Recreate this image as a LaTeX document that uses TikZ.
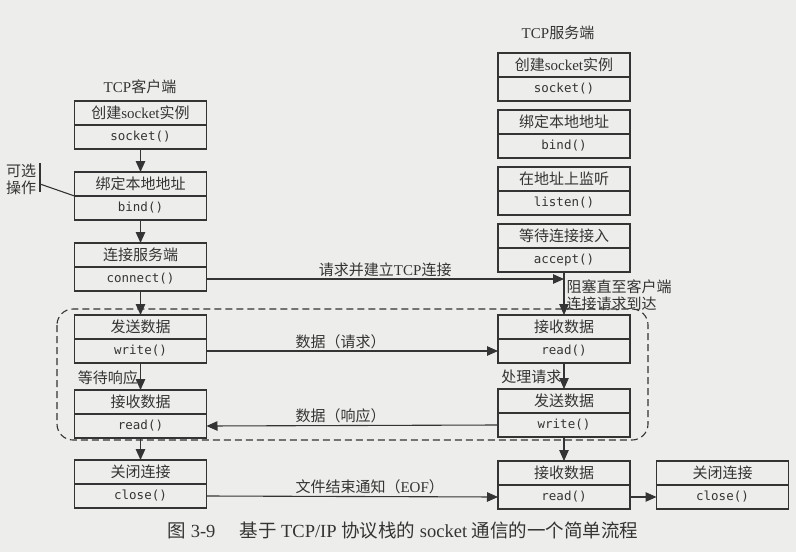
\documentclass[tikz,border=0pt]{standalone}
\usepackage{fontspec}
\setmainfont{Liberation Serif}
\setmonofont{DejaVu Sans Mono}
\newfontfamily\cjk{Noto Sans CJK SC}
\newcommand\zh[1]{{\cjk #1}}
\usepackage{tikz}
\usetikzlibrary{arrows.meta}
\usetikzlibrary{positioning}
\definecolor{paper}{RGB}{237,237,235}
\definecolor{ink}{RGB}{52,52,52}

\begin{document}
\begin{tikzpicture}
[x=1pt,y=-1pt,
  boxdecorate/.style={draw=ink,line width=1.1pt,minimum width=132pt,minimum height=24pt,
    inner sep=0pt,outer sep=0pt,text=ink,font=\fontsize{15}{17}\selectfont},
  funcdecorate/.style={boxdecorate,font=\fontsize{12.5}{14}\selectfont\ttfamily},
  labeldecorate/.style={text=ink,font=\fontsize{15}{17}\selectfont,inner sep=2pt},
  linedecorate/.style={draw=ink,line width=1.1pt},
  arrowdecorate/.style={linedecorate,-{Triangle[length=11pt,width=9.5pt]}}]
\fill[paper] (0,0) rectangle (796,552);
\useasboundingbox (0,0) rectangle (796,552);
%% titles
\node[labeldecorate] (client) at (140,87) {TCP\zh{客户端}};
\node[labeldecorate] (server) at (558,33) {TCP\zh{服务端}};
%% boxes: step on top, call below
\foreach \nodename/\x/\y/\what/\func in {
  cs/140.5/113/{\zh{创建}socket\zh{实例}}/socket(),
  cb/140.5/184/{\zh{绑定本地地址}}/bind(),
  cc/140.5/255/{\zh{连接服务端}}/connect(),
  cw/140.5/327/{\zh{发送数据}}/write(),
  cr/140.5/402/{\zh{接收数据}}/read(),
  cl/140.5/472/{\zh{关闭连接}}/close(),
  ss/564/65/{\zh{创建}socket\zh{实例}}/socket(),
  sb/564/122/{\zh{绑定本地地址}}/bind(),
  sl/564/179/{\zh{在地址上监听}}/listen(),
  sa/564/236/{\zh{等待连接接入}}/accept(),
  sr/564/327/{\zh{接收数据}}/read(),
  sw/564/401/{\zh{发送数据}}/write(),
  se/564/473/{\zh{接收数据}}/read(),
  sc/722.5/473/{\zh{关闭连接}}/close()}
{
  \node[boxdecorate] (\nodename) at (\x,\y) {\what};
  \node[funcdecorate,below=0pt of \nodename] (\nodename-f) {\func};
}
%% optional step
\node[labeldecorate,align=center] (opt) at (21,179) {\zh{可选}\\\zh{操作}};
\draw[linedecorate] (40,163) -- (40,192);
\coordinate (optfoot) at (40,184);
\draw[linedecorate] (optfoot) -- (cb.south west);
%% loop of requests
\draw[linedecorate,dash pattern=on 7pt off 4pt,rounded corners=16pt] (57,309) rectangle (648,440);
%% control flow
\path
\foreach \startnode/\endnode in {cs-f/cb, cb-f/cc, cc-f/cw, cr-f/cl, sw-f/se}
{
  (\startnode.south) edge[arrowdecorate] (\endnode.north)
};
\draw[arrowdecorate] (cw-f.south) -- node[labeldecorate,left,pos=0.55] (wait) {\zh{等待响应}} (cr.north);
\draw[arrowdecorate] (sr-f.south) -- node[labeldecorate,left,pos=0.55] (proc) {\zh{处理请求}} (sw.north);
\draw[arrowdecorate] (sa-f.south) -- node[labeldecorate,right,align=left,pos=0.55] (block)
  {\zh{阻塞直至客户端}\\\zh{连接请求到达}} (sr.north);
%% messages
\draw[arrowdecorate] (cc-f.east) -- node[labeldecorate,above] (conn) {\zh{请求并建立}TCP\zh{连接}} (cc-f.east -| sa-f.south);
\draw[arrowdecorate] (cw-f.east) -- node[labeldecorate,above,pos=0.46] (req) {\zh{数据（请求）}} (sr-f.west);
\draw[arrowdecorate] (sw-f.west) -- node[labeldecorate,above,pos=0.54] (resp) {\zh{数据（响应）}} (cr-f.east);
\draw[arrowdecorate] (cl-f.east) -- node[labeldecorate,above,pos=0.56] (eof) {\zh{文件结束通知（}EOF\zh{）}} (se-f.west);
\draw[arrowdecorate] (se-f.east) -- (sc-f.west);
%% caption
\node[text=ink,font=\fontsize{18.5}{20}\selectfont] (caption) at (403,530)
  {\zh{图} 3-9\hspace{1.3em}\zh{基于} TCP/IP \zh{协议栈的} socket \zh{通信的一个简单流程}};
\end{tikzpicture}
\end{document}
